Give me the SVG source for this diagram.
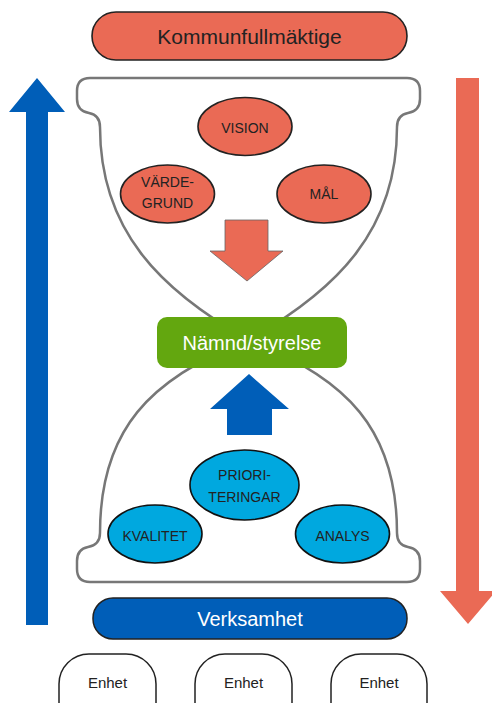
<svg xmlns="http://www.w3.org/2000/svg" width="492" height="703" viewBox="0 0 492 703">
<style>
.red{fill:#EA6A55;stroke:#222;stroke-width:1.6}
.lb{fill:#00A8DF;stroke:#111;stroke-width:1.6}
.t{font-family:"Liberation Sans",Arial,sans-serif;text-anchor:middle}
.s{font-size:14px;fill:#222}
.w{fill:#fff}
</style>
<rect width="492" height="703" fill="#fff"/>
<g id="arrows">
<path d="M37,78 L65,112 L48,112 L48,625 L26,625 L26,112 L9,112 Z" fill="#005EB8"/>
<path d="M456,78 L479,78 L479,591 L496,591 L468,624 L440,591 L456,591 Z" fill="#EA6A55"/>
</g>
<g id="hourglass">
<path d="M90,78 L407,78 Q420,78 420,91 L420,99 Q420,111 408,113 Q397,115 397,127 C397,230 337,290 248.5,340 C150,378 100,430 100,533 Q100,545 88,547 Q77,549 77,561 L77,569 Q77,582 90,582 L407,582 Q420,582 420,569 L420,561 Q420,549 408,547 Q397,545 397,533 C397,430 347,378 248.5,340 C160,290 100,230 100,127 Q100,115 89,113 Q77,111 77,99 L77,91 Q77,78 90,78 Z" fill="#fff" stroke="#777" stroke-width="2.5" stroke-linejoin="round"/>
</g>
<g id="kommunfullmaktige">
<rect x="92" y="12" width="315" height="48" rx="24" class="red"/>
<text x="249.5" y="44" class="t" font-size="21" fill="#222">Kommunfullmäktige</text>
</g>
<g id="vision">
<ellipse cx="245" cy="126.5" rx="47" ry="29" class="red"/>
<text x="245" y="133" class="t s">VISION</text>
</g>
<g id="vardegrund">
<ellipse cx="167.5" cy="194" rx="47" ry="29" class="red"/>
<text x="167.5" y="187" class="t s">VÄRDE-</text>
<text x="167.5" y="208" class="t s">GRUND</text>
</g>
<g id="mal">
<ellipse cx="324" cy="194" rx="47" ry="29" class="red"/>
<text x="324" y="199" class="t s">MÅL</text>
</g>
<g id="down-arrow">
<path d="M225,220 L268,220 L268,251 L283,251 L247,281 L210,251 L225,251 Z" fill="#EA6A55" stroke="#666" stroke-width="0.8"/>
</g>
<g id="namnd">
<rect x="157" y="317" width="190" height="51" rx="10" fill="#63A70F"/>
<text x="252" y="350" class="t w" font-size="20">Nämnd/styrelse</text>
</g>
<g id="up-arrow">
<path d="M249,374 L289,409 L272,409 L272,435 L227,435 L227,409 L210,409 Z" fill="#005EB8"/>
</g>
<g id="prioriteringar">
<ellipse cx="244.5" cy="485" rx="54.5" ry="35" class="lb"/>
<text x="244.5" y="480" class="t s">PRIORI-</text>
<text x="244.5" y="502" class="t s">TERINGAR</text>
</g>
<g id="kvalitet">
<ellipse cx="155" cy="534" rx="47" ry="29" class="lb"/>
<text x="155" y="541" class="t s">KVALITET</text>
</g>
<g id="analys">
<ellipse cx="342.5" cy="534" rx="47" ry="29" class="lb"/>
<text x="342.5" y="541" class="t s">ANALYS</text>
</g>
<g id="verksamhet">
<rect x="93" y="598" width="314" height="41" rx="20" fill="#005EB8" stroke="#222" stroke-width="1.5"/>
<text x="250" y="626" class="t w" font-size="20">Verksamhet</text>
</g>
<g id="enhet1">
<rect x="59" y="654" width="97" height="80" rx="30" fill="#fff" stroke="#222" stroke-width="1.5"/>
<text x="107.5" y="688" class="t" font-size="15" fill="#222">Enhet</text>
</g>
<g id="enhet2">
<rect x="195" y="654" width="97" height="80" rx="30" fill="#fff" stroke="#222" stroke-width="1.5"/>
<text x="243.5" y="688" class="t" font-size="15" fill="#222">Enhet</text>
</g>
<g id="enhet3">
<rect x="331" y="654" width="96" height="80" rx="30" fill="#fff" stroke="#222" stroke-width="1.5"/>
<text x="379" y="688" class="t" font-size="15" fill="#222">Enhet</text>
</g>
</svg>
